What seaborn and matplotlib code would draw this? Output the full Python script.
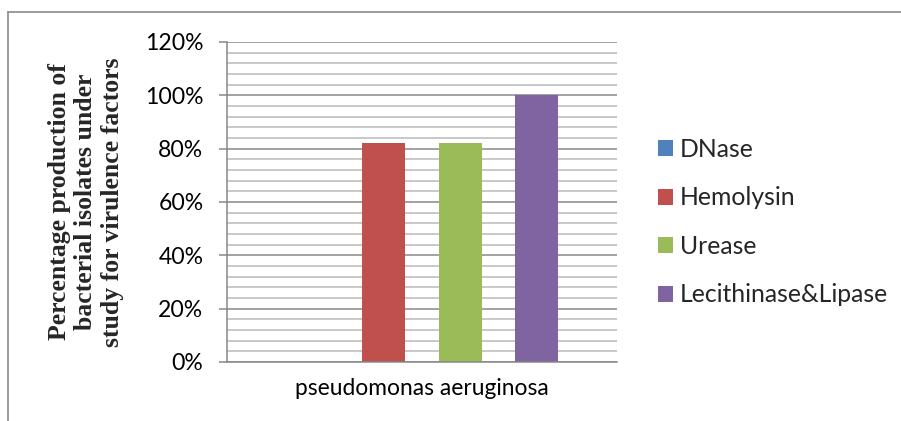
import matplotlib
matplotlib.use("Agg")
import matplotlib.pyplot as plt
from matplotlib.lines import Line2D
from matplotlib.ticker import MultipleLocator, PercentFormatter
import seaborn as sns
import pandas as pd

# Virulence factor production for the studied isolates
organism = ["pseudomonas aeruginosa"]
factors = ["DNase", "Hemolysin", "Urease", "Lecithinase&Lipase"]
production = [0.00, 0.82, 0.82, 1.00]
colors = ["#4F81BD", "#C0504D", "#9BBB59", "#8064A2"]

df = pd.DataFrame({
    "organism": organism * len(factors),
    "factor": factors,
    "production": production,
})

sns.set_style("white")
plt.rcParams["font.family"] = ["Lato", "DejaVu Sans"]

W, H = 901, 421
fig = plt.figure(figsize=(W / 100, H / 100), dpi=100)
ax = fig.add_axes([227 / W, (H - 362) / H, 390 / W, 320 / H])

sns.barplot(data=df, x="organism", y="production", hue="factor",
            hue_order=factors, palette=colors, width=0.785,
            saturation=1, ax=ax, legend=True)

# narrower bars with gaps between them, each kept on its slot centre
bar_w = 0.110
for p in ax.patches:
    c = p.get_x() + p.get_width() / 2
    p.set_width(bar_w)
    p.set_x(c - bar_w / 2)
    p.set_edgecolor("none")

ax.set_xlim(-0.5, 0.5)
ax.set_ylim(0, 1.2)
ax.yaxis.set_major_locator(MultipleLocator(0.2))
ax.yaxis.set_minor_locator(MultipleLocator(0.04))
ax.yaxis.set_major_formatter(PercentFormatter(1.0, decimals=0))

ax.grid(True, which="minor", axis="y", color="#b9b9b9", linewidth=1.1)
ax.grid(True, which="major", axis="y", color="#878787", linewidth=1.1)
ax.set_axisbelow(True)

for s in ["top", "right"]:
    ax.spines[s].set_visible(False)
for s in ["left", "bottom"]:
    ax.spines[s].set_color("#878787")
    ax.spines[s].set_linewidth(1.1)

ax.tick_params(axis="y", which="major", direction="out", length=6,
               width=1.1, color="#878787", left=True, pad=11,
               labelsize=16.6, labelcolor="black")
ax.tick_params(axis="y", which="minor", left=False)
ax.tick_params(axis="x", bottom=False, pad=8, labelsize=16.4,
               labelcolor="black")

ax.set_xlabel("")
ax.set_ylabel("Percentage production of\nbacterial isolates under\nstudy for virulence factors",
              family=["Liberation Serif", "DejaVu Serif"], fontweight="bold",
              fontsize=18.5, linespacing=1.2, labelpad=15)

handles, labels = ax.get_legend_handles_labels()
ax.legend(handles, labels, loc="upper left",
          bbox_to_anchor=(658 / W, (H - 138) / H),
          bbox_transform=fig.transFigure, frameon=False, fontsize=17.8,
          handlelength=0.6, handleheight=0.6, handletextpad=0.3,
          labelspacing=1.03, borderaxespad=0, borderpad=0)

# chart-area border
bc = "#8a8a8a"
fig.add_artist(Line2D([8 / W, 8 / W], [0, (H - 12) / H], color=bc,
                      linewidth=1.2, transform=fig.transFigure))
fig.add_artist(Line2D([8 / W, 1.0], [(H - 12) / H, (H - 12) / H], color=bc,
                      linewidth=1.2, transform=fig.transFigure))

fig.savefig("out.png", dpi=100)
